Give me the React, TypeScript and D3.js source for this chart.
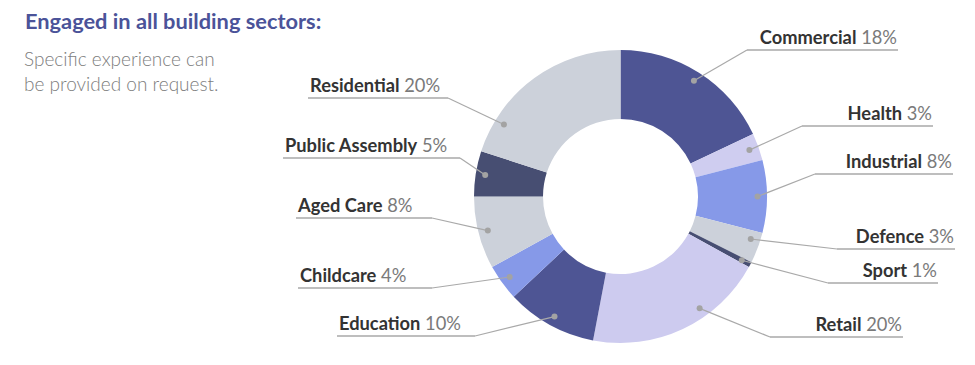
import React from "react";
import * as d3 from "d3";

// sector shares (slice sizes) and the printed percentages
const sectors = ["Commercial", "Health", "Industrial", "Defence", "Sport", "Retail", "Education", "Childcare", "Aged Care", "Public Assembly", "Residential"];
const shares = [18, 3, 8, 3.4, 0.6, 20, 10, 4, 8, 5, 20];
const pctLabels = ["18%", "3%", "8%", "3%", "1%", "20%", "10%", "4%", "8%", "5%", "20%"];
const sliceColors = ["#4e5594", "#cfcdf0", "#8699e8", "#ccd1da", "#474e72", "#cdcbef", "#4e5594", "#8699e8", "#ccd1da", "#474e72", "#ccd1da"];

// label layout: [outer x of underline, inner x of underline, underline y]
const labelLayout = [
  [898, 747, 50],
  [933, 802, 126],
  [953, 815, 174],
  [955, 837, 249],
  [938, 828, 283],
  [903, 770, 337],
  [337, 475, 336],
  [298, 432, 288],
  [296, 432, 218],
  [283, 460, 158],
  [308, 448, 98],
];
// where in each slice the dot sits (fraction of slice angle)
const anchorFrac = [0.5, 0.5, 0.5, 0.3, 0.5, 0.36, 0.5, 0.5, 0.5, 0.5, 0.19];

const W = 975, H = 365;
const cx = 620.5, cy = 196.5;
const rOuter = 146.5, rInner = 77.5, rDot = 137;

export default function App() {
  const pie = d3.pie<number>().sort(null).value(d => d).startAngle(0).endAngle(2 * Math.PI);
  const arcs = pie(shares);
  const arc = d3.arc<d3.PieArcDatum<number>>().innerRadius(rInner).outerRadius(rOuter);

  return (
    <svg width={W} height={H} style={{ position: "absolute", left: 0, top: 0, fontFamily: "Lato, sans-serif" }}>
      <rect width={W} height={H} fill="#fff" />
      <text x={25} y={29} fontSize={21.8} fontWeight={700} fill="#4b5399">Engaged in all building sectors:</text>
      <text x={24} y={66} fontSize={19} fontWeight={300} fill="#7d7d7d">Specific experience can</text>
      <text x={24} y={91} fontSize={19} fontWeight={300} fill="#7d7d7d">be provided on request.</text>

      <g transform={`translate(${cx},${cy})`}>
        {arcs.map((a, i) => (
          <path key={i} d={arc(a) || ""} fill={sliceColors[i]} />
        ))}
      </g>

      {arcs.map((a, i) => {
        const ang = a.startAngle + (a.endAngle - a.startAngle) * anchorFrac[i];
        const dx = cx + rDot * Math.sin(ang);
        const dy = cy - rDot * Math.cos(ang);
        const [ox, ix, ly] = labelLayout[i];
        const right = ox > cx;
        return (
          <g key={i}>
            <line x1={ox} x2={ix} y1={ly} y2={ly} stroke="#a9a9a9" strokeWidth={1.5} />
            <line x1={ix} y1={ly} x2={dx} y2={dy} stroke="#a9a9a9" strokeWidth={1.2} />
            <circle cx={dx} cy={dy} r={3} fill="#a3a3a3" />
            <text
              x={right ? ox - 1 : ox + 2}
              y={ly - 6}
              fontSize={18.3}
              textAnchor={right ? "end" : "start"}
            >
              <tspan fontWeight={700} fill="#333">{sectors[i]}</tspan>
              <tspan fontWeight={400} fill="#7a7a7a">{" " + pctLabels[i]}</tspan>
            </text>
          </g>
        );
      })}
    </svg>
  );
}
